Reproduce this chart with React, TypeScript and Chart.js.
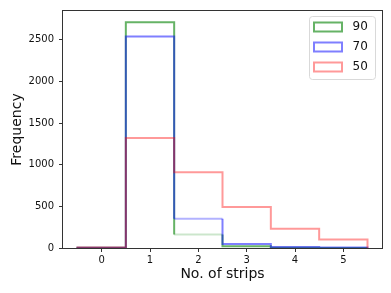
import React, { useEffect, useRef } from "react";
import { Chart, registerables } from "chart.js";

Chart.register(...registerables);

const binCenters = [0, 1, 2, 3, 4, 5];
const binEdges = [-0.5, 0.5, 1.5, 2.5, 3.5, 4.5, 5.5];
const counts90 = [3, 2710, 162, 22, 2, 0];
const counts70 = [4, 2540, 352, 48, 13, 5];
const counts50 = [6, 1320, 908, 492, 232, 103];
const seriesLabels = ["90", "70", "50"];
const yTicks = [0, 500, 1000, 1500, 2000, 2500];
const xTicks = binCenters;

const FONT = "'DejaVu Sans', sans-serif";

function stepPoints(counts: number[]) {
  const pts: { x: number; y: number }[] = [{ x: binEdges[0], y: 0 }];
  counts.forEach((c, i) => {
    pts.push({ x: binEdges[i], y: c });
    pts.push({ x: binEdges[i + 1], y: c });
  });
  pts.push({ x: binEdges[binEdges.length - 1], y: 0 });
  return pts;
}

const frameAndLegend = {
  id: "frameAndLegend",
  afterDatasetsDraw(chart: any) {
    const { ctx, chartArea } = chart;
    ctx.save();
    ctx.strokeStyle = "#333";
    ctx.lineWidth = 1;
    ctx.strokeRect(
      Math.round(chartArea.left) - 0.5,
      Math.round(chartArea.top) - 0.5,
      Math.round(chartArea.right - chartArea.left) + 1,
      Math.round(chartArea.bottom - chartArea.top) + 1
    );
    // legend
    const lx = 309.5, ly = 16.5, lw = 66, lh = 63, r = 3;
    ctx.beginPath();
    ctx.moveTo(lx + r, ly);
    ctx.lineTo(lx + lw - r, ly);
    ctx.quadraticCurveTo(lx + lw, ly, lx + lw, ly + r);
    ctx.lineTo(lx + lw, ly + lh - r);
    ctx.quadraticCurveTo(lx + lw, ly + lh, lx + lw - r, ly + lh);
    ctx.lineTo(lx + r, ly + lh);
    ctx.quadraticCurveTo(lx, ly + lh, lx, ly + lh - r);
    ctx.lineTo(lx, ly + r);
    ctx.quadraticCurveTo(lx, ly, lx + r, ly);
    ctx.closePath();
    ctx.fillStyle = "rgba(255,255,255,0.8)";
    ctx.fill();
    ctx.strokeStyle = "#d9d9d9";
    ctx.stroke();
    const order = [2, 1, 0];
    order.forEach((dsIndex, row) => {
      const ds = chart.data.datasets[dsIndex];
      const cy = 27 + row * 20;
      ctx.strokeStyle = ds.borderColor;
      ctx.lineWidth = 2;
      ctx.strokeRect(314, cy - 4.5, 28, 9);
      ctx.fillStyle = "#111";
      ctx.font = `12px ${FONT}`;
      ctx.textAlign = "left";
      ctx.textBaseline = "middle";
      ctx.fillText(ds.label, 352.5, cy);
    });
    ctx.restore();
  },
};

export default function App() {
  const ref = useRef<HTMLCanvasElement | null>(null);
  useEffect(() => {
    if (!ref.current) return;
    const faint = (base: string, light: string) => (c: any) =>
      c.p0.parsed.x === 1.5 && c.p1.parsed.x === 2.5 ? light : base;
    const green = "rgba(0,128,0,0.6)";
    const blue = "rgba(0,0,255,0.5)";
    const red = "rgba(255,0,0,0.4)";
    const chart = new Chart(ref.current, {
      type: "line",
      data: {
        datasets: [
          {
            label: seriesLabels[2],
            data: stepPoints(counts50),
            borderColor: red,
            borderWidth: 2,
            pointRadius: 0,
            fill: false,
            tension: 0,
            order: 1,
          },
          {
            label: seriesLabels[1],
            data: stepPoints(counts70),
            borderColor: blue,
            borderWidth: 2,
            pointRadius: 0,
            fill: false,
            tension: 0,
            order: 2,
            segment: { borderColor: faint(blue, "rgba(0,0,255,0.3)") },
          },
          {
            label: seriesLabels[0],
            data: stepPoints(counts90),
            borderColor: green,
            borderWidth: 2,
            pointRadius: 0,
            fill: false,
            tension: 0,
            order: 3,
            segment: { borderColor: faint(green, "rgba(0,128,0,0.2)") },
          },
        ],
      },
      options: {
        animation: false,
        responsive: false,
        layout: { padding: { top: 9, right: 9, left: 0, bottom: 0 } },
        plugins: { legend: { display: false }, tooltip: { enabled: false } },
        scales: {
          x: {
            type: "linear",
            min: -0.8,
            max: 5.8,
            afterBuildTicks: (s: any) => {
              s.ticks = xTicks.map((v) => ({ value: v }));
            },
            afterFit: (s: any) => {
              s.height = 45;
            },
            grid: { drawOnChartArea: false, drawTicks: true, tickLength: 4, color: "#333" },
            border: { display: false },
            ticks: {
              font: { family: FONT, size: 10 },
              color: "#111",
              padding: 2,
              maxRotation: 0,
              callback: (v: any) => String(v),
            },
            title: {
              display: true,
              text: "No. of strips",
              font: { family: FONT, size: 14 },
              color: "#111",
              padding: { top: 0, bottom: 10 },
            },
          },
          y: {
            type: "linear",
            min: 0,
            max: 2845,
            afterBuildTicks: (s: any) => {
              s.ticks = yTicks.map((v) => ({ value: v }));
            },
            afterFit: (s: any) => {
              s.width = 63;
            },
            grid: { drawOnChartArea: false, drawTicks: true, tickLength: 4, color: "#333" },
            border: { display: false },
            ticks: {
              font: { family: FONT, size: 10 },
              color: "#111",
              padding: 5,
              callback: (v: any) => String(v),
            },
            title: {
              display: true,
              text: "Frequency",
              font: { family: FONT, size: 14 },
              color: "#111",
              padding: { top: 9, bottom: 0 },
            },
          },
        },
      },
      plugins: [frameAndLegend],
    });
    return () => chart.destroy();
  }, []);
  return (
    <div style={{ position: "absolute", left: 0, top: 0, width: 391, height: 293, background: "#fff" }}>
      <canvas ref={ref} width={391} height={293} />
    </div>
  );
}
